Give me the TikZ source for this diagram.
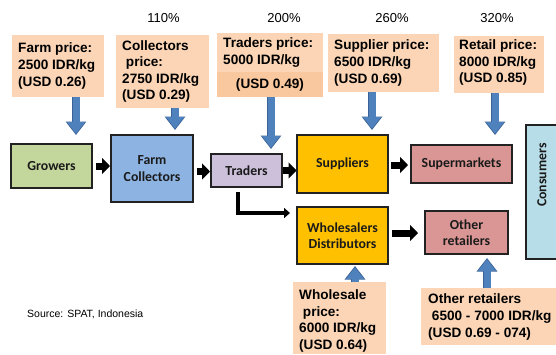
\documentclass[tikz,border=0pt]{standalone}
\usepackage{fontspec}
\setmainfont{Liberation Sans}
\newfontfamily\carlito{Carlito}
\usetikzlibrary{arrows.meta,calc}
\definecolor{peach}{HTML}{FBD5B5}
\definecolor{peachdark}{HTML}{F9C89E}
\definecolor{arrowblue}{HTML}{4F81BD}
\definecolor{arrowedge}{HTML}{3A6296}
\definecolor{growgreen}{HTML}{C3D69B}
\definecolor{collblue}{HTML}{8DB3E2}
\definecolor{tradlav}{HTML}{CCC0DA}
\definecolor{gold}{HTML}{FFC000}
\definecolor{rose}{HTML}{D99694}
\definecolor{consblue}{HTML}{B7DEE8}
\definecolor{boxline}{HTML}{222222}
\definecolor{textdark}{HTML}{1A1A1A}
\tikzset{
  pbox/.style={fill=peach, draw=none, inner sep=0pt, outer sep=0pt},
  ptext/.style={anchor=west, align=left, inner sep=0pt, text=black,
    font=\bfseries\fontsize{13.6}{16.6}\selectfont},
  pct/.style={inner sep=0pt, font=\fontsize{13}{15}\selectfont},
  mainbox/.style={draw=boxline, line width=1.5pt, align=center, inner sep=0pt,
    outer sep=0pt, text=textdark, font=\carlito\bfseries\fontsize{13.8}{16.5}\selectfont},
  barrowedge/.style={draw=arrowedge, line width=8.6pt, -{Triangle[width=20pt,length=13.5pt]}},
  barrow/.style={draw=arrowblue, line width=7pt, shorten >=1.3pt, -{Triangle[width=17pt,length=11.5pt]}},
  karrow/.style={draw=black, line width=7pt, -{Triangle[width=16pt,length=8pt]}},
  elbow/.style={draw=black, line width=3.5pt, line join=miter, -{Triangle[width=10pt,length=6pt]}}
}
\newcommand{\bluearr}[2]{%
  \draw[barrowedge] #1 -- #2;
  \draw[barrow] #1 -- #2;}
\begin{document}
\begin{tikzpicture}[x=1pt,y=-1pt]
\useasboundingbox (0,0) rectangle (556,354);

% percentages
\node[pct] (p110) at (163.5,18) {110\%};
\node[pct] (p200) at (284,18) {200\%};
\node[pct] (p260) at (392,18) {260\%};
\node[pct] (p320) at (497,18) {320\%};

% price boxes
\node[pbox, minimum width=92pt, minimum height=62pt] (farmp) at (58,66) {};
\node[ptext] (farmt) at ($(farmp.west)+(6,0)$) {Farm price:\\2500 IDR/kg\\(USD 0.26)};

\node[pbox, minimum width=93pt, minimum height=73pt] (collp) at (162.5,71.5) {};
\node[ptext] (collt) at ($(collp.west)+(6,0)$) {Collectors\\\ price:\\2750 IDR/kg\\(USD 0.29)};

\node[pbox, minimum width=106pt, minimum height=39pt] (tradp) at (270,52.5) {};
\node[ptext] (tradt) at ($(tradp.west)+(6,0)$) {Traders price:\\5000 IDR/kg};
\node[pbox, fill=peachdark, minimum width=106pt, minimum height=25pt,
  font=\bfseries\fontsize{13.6}{16.6}\selectfont] (tradq) at (270,84.5) {(USD 0.49)};

\node[pbox, minimum width=111pt, minimum height=58pt] (suppp) at (383.5,63) {};
\node[ptext] (suppt) at ($(suppp.west)+(6,0)$) {Supplier price:\\6500 IDR/kg\\(USD 0.69)};

\node[pbox, minimum width=90pt, minimum height=57pt] (retp) at (499,64.5) {};
\node[ptext] (rett) at ($(retp.west)+(5,-2)$) {Retail price:\\8000 IDR/kg\\(USD 0.85)};

\node[pbox, minimum width=93pt, minimum height=72pt] (whp) at (339.5,318) {};
\node[ptext] (wht) at ($(whp.west)+(6,3)$) {Wholesale\\\ price:\\6000 IDR/kg\\(USD 0.64)};

\node[pbox, minimum width=135pt, minimum height=57pt] (othp) at (488.5,316.5) {};
\node[ptext] (otht) at ($(othp.west)+(7,0.5)$) {Other retailers\\\ 6500 - 7000 IDR/kg\\(USD 0.69 - 074)};

% main boxes
\node[mainbox, fill=growgreen, minimum width=81pt, minimum height=44pt] (growers) at (51.5,166) {Growers};
\node[mainbox, fill=collblue, minimum width=82pt, minimum height=67pt] (fc) at (152,168.5) {Farm\\Collectors};
\node[mainbox, fill=tradlav, minimum width=71pt, minimum height=33pt] (traders) at (246.5,170.5) {Traders};
\node[mainbox, fill=gold, minimum width=91pt, minimum height=58pt] (suppliers) at (342.5,164) {Suppliers};
\node[mainbox, fill=rose, minimum width=101pt, minimum height=38pt] (supermarkets) at (461.5,164) {Supermarkets};
\node[mainbox, fill=gold, minimum width=91pt, minimum height=57pt] (wd) at (342.5,235.5) {Wholesalers\\Distributors};
\node[mainbox, fill=rose, minimum width=83pt, minimum height=43pt] (other) at (466.5,232.5) {Other\\retailers};
\node[mainbox, fill=consblue, minimum width=36pt, minimum height=134pt] (cons) at (544,192) {};
\node[rotate=90, inner sep=0pt, text=textdark, font=\carlito\bfseries\fontsize{13.8}{16.5}\selectfont] (const) at (542,175) {Consumers};

% blue price arrows
\coordinate (t1) at (76,135);
\coordinate (t2) at (175,130);
\coordinate (t3) at (271,149);
\coordinate (t4) at (372,130);
\coordinate (t5) at (495,135);
\coordinate (t6) at (355,266);
\coordinate (t7) at (487,258);
\bluearr{(farmp.south -| t1)}{(t1)}
\bluearr{(collp.south -| t2)}{(t2)}
\bluearr{(tradq.south -| t3)}{(t3)}
\bluearr{(suppp.south -| t4)}{(t4)}
\bluearr{(retp.south -| t5)}{(t5)}
\bluearr{(whp.north -| t6)}{(t6)}
\bluearr{(othp.north -| t7)}{(t7)}

% black flow arrows
\draw[karrow] ($(growers.east)+(4,0)$) -- ($(growers.east -| fc.west)+(-1,0)$);
\draw[karrow] ($(fc.east |- traders.east)+(4,1)$) -- ($(traders.west)+(-1,1)$);
\draw[karrow] ($(traders.east)+(1,0)$) -- ($(traders.east -| suppliers.west)+(-0.5,0)$);
\draw[karrow] ($(suppliers.east)+(3,1)$) -- ($(suppliers.east -| supermarkets.west)+(-3,1)$);
\draw[karrow] ($(other.west -| wd.east)+(4,0.5)$) -- ($(other.west)+(-7,0.5)$);

% elbow arrow
\coordinate (e1) at (238,213);
\draw[elbow] ($(traders.south -| e1)+(0,5)$) -- (e1) -- ($(e1 -| wd.west)+(-7,0)$);

% source
\node[anchor=west, inner sep=0pt, font=\fontsize{10.5}{12}\selectfont] (src) at (27,314) {Source: SPAT, Indonesia};
\end{tikzpicture}
\end{document}
